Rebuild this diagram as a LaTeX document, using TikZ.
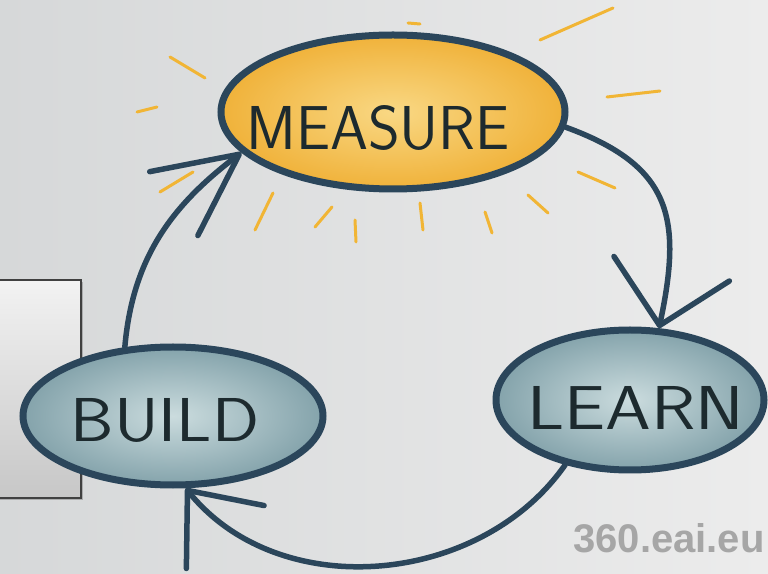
\documentclass[tikz,border=0pt]{standalone}
\usepackage{fontspec}
\newfontfamily\markfont{Liberation Sans}
\usetikzlibrary{shapes.geometric, arrows.meta, shadows, positioning}
\definecolor{ink}{HTML}{2B465B}
\definecolor{pen}{HTML}{1D2A2E}
\definecolor{sun}{HTML}{F1B535}
\definecolor{sunin}{HTML}{F9D884}
\definecolor{sunout}{HTML}{F0B23A}
\definecolor{seain}{HTML}{CBDCDE}
\definecolor{seaout}{HTML}{84A3AB}
\definecolor{bgl}{HTML}{D6D8D9}
\definecolor{bgr}{HTML}{ECECEC}
\tikzset{
  bubble/.style={ellipse, draw=ink, line width=7pt, inner sep=0pt, shading=radial},
  word/.style={text=pen, font=\sffamily\fontsize{62}{62}\selectfont},
  flow/.style={draw=ink, line width=5.5pt, line cap=round},
  ray/.style={draw=sun, line width=3pt, line cap=round}
}
\begin{document}
\begin{tikzpicture}[x=1pt,y=1pt]
    \useasboundingbox (0,0) rectangle (768,573);
    \shade[left color=bgl, right color=bgr] (0,0) rectangle (768,573);
% left slide box
    \draw[draw=black!75, line width=1.2pt, top color=white!95!black, bottom color=black!22, drop shadow]
        (-5,293) rectangle (81,75);
% sun rays
    \foreach \xa/\ya/\xb/\yb in {170/516/205/495, 137/461/157/466, 160/381/193/401, 255/343/273/380,
        315/346/332/366, 355/353/356/331, 420/370/423/343, 485/361/492/340,
        528/378/548/360, 578/401/615/385, 607/476/660/482, 540/533/613/565, 408/550/420/549}
        \draw[ray] (\xa,\ya) -- (\xb,\yb);
% the three steps
    \node[bubble, inner color=sunin, outer color=sunout, minimum width=344pt, minimum height=154pt] (measure) at (393,461) {};
    \node[bubble, inner color=seain, outer color=seaout, minimum width=300pt, minimum height=138pt] (build) at (173,157) {};
    \node[bubble, inner color=seain, outer color=seaout, minimum width=268pt, minimum height=140pt] (learn) at (630,173) {};
    \node[word] (measuret) at ([xshift=-15pt,yshift=-16pt]measure.center) {\scalebox{0.98}[1]{MEASURE}};
    \node[word] (buildt) at ([xshift=-8pt,yshift=-4pt]build.center) {\scalebox{1.12}[1]{BUILD}};
    \node[word] (learnt) at ([xshift=6pt,yshift=-8pt]learn.center) {\scalebox{1.18}[1]{LEARN}};
% loop
    \draw[flow, -{Straight Barb[length=58pt,width=118pt,round]}] (measure.-5) to[out=-20,in=78,looseness=1.3] (learn.68);
    \draw[flow, -{Straight Barb[length=60pt,width=100pt,round]}] (learn.-135) to[out=-125,in=-51] (build.-80);
    \draw[flow, -{Straight Barb[length=82pt,width=80pt,round]}] (build.125) to[out=85,in=-143] (measure.195);
% watermark
    \node[text=black!35, font=\markfont\bfseries\fontsize{40}{40}\selectfont] (mark) at (669,35) {360.eai.eu};
\end{tikzpicture}
\end{document}
